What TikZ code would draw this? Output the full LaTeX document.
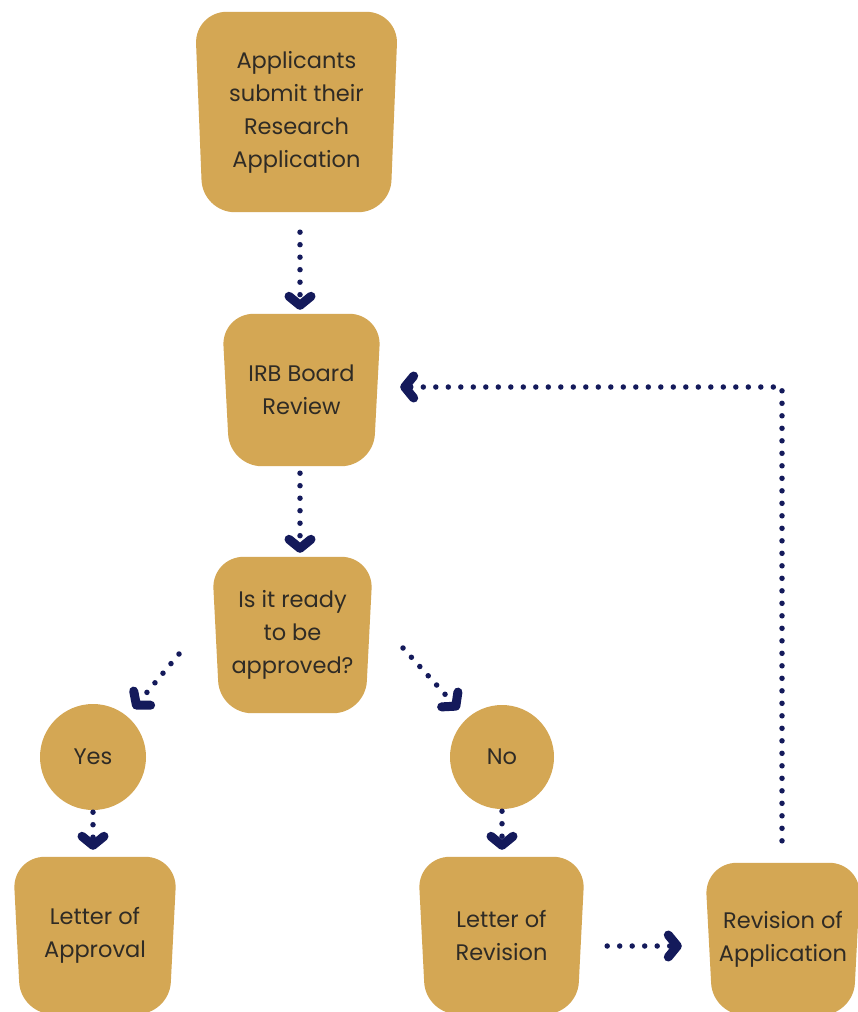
\documentclass[tikz,border=0pt]{standalone}
\usepackage{fontspec}
\setmainfont{Poppins}
\usetikzlibrary{arrows.meta,backgrounds}
\definecolor{gold}{HTML}{D4A754}
\definecolor{navy}{HTML}{141A5B}
\definecolor{txt}{HTML}{2F2B25}
\newcommand\goldshape[2][8pt]{%
  \fill[gold, rounded corners=32pt] (#2.north west) -- (#2.north east)
    -- ([xshift=-#1]#2.south east) -- ([xshift=#1]#2.south west) -- cycle;}
\tikzset{
  box/.style={inner sep=0pt, align=center, text=txt,
    font=\fontsize{22.5}{33}\selectfont},
  circ/.style={circle, fill=gold, inner sep=0pt, text=txt,
    font=\fontsize{22.5}{33}\selectfont},
  conn/.style={navy, line width=5.5pt, line cap=round,
    dash pattern=on 0pt off 12.5pt,
    -{Straight Barb[length=9pt,width=22pt,line width=9pt,round]}}
}
\begin{document}
\begin{tikzpicture}[x=1pt,y=-1pt]
\useasboundingbox (0,0) rectangle (857,1012);
\clip (0,0) rectangle (857,1012);
% nodes
\node[box, minimum width=203pt, minimum height=200pt] (app) at (296.5,112)
  {Applicants\\submit their\\Research\\Application};
\node[box, minimum width=159pt, minimum height=152pt] (irb) at (301.5,390)
  {IRB Board\\Review};
\node[box, minimum width=161pt, minimum height=156pt] (ready) at (292.5,635)
  {Is it ready\\to be\\approved?};
\node[circ, minimum size=106pt] (yes) at (93,757) {Yes};
\node[circ, minimum size=104pt] (no) at (502,757) {No};
\node[box, minimum width=164pt, minimum height=157pt] (appr) at (95,935.5)
  {Letter of\\Approval};
\node[box, minimum width=167pt, minimum height=157pt] (letrev) at (501.5,935.5)
  {Letter of\\Revision};
\node[box, minimum width=156pt, minimum height=152pt] (revapp) at (783,939)
  {Revision of\\Application};
\begin{scope}[on background layer]
  \fill[white] (0,0) rectangle (857,1012);
  \goldshape{app}
  \goldshape{irb}
  \goldshape{ready}
  \goldshape{appr}
  \goldshape{letrev}
  \goldshape{revapp}
\end{scope}
% connectors
\coordinate (y1) at (179,654);
\coordinate (n1) at (403,648);
\coordinate (r7) at (0,946);
\coordinate (corner) at (782,387);
\draw[conn, shorten <=20pt, shorten >=4pt] ([xshift=3.5pt]app.south) -- ([xshift=-1.5pt]irb.north);
\draw[conn, shorten <=7pt, shorten >=4pt] ([xshift=-1.5pt]irb.south) -- ([xshift=7.5pt]ready.north);
\draw[conn, shorten >=10pt] (y1) -- (yes);
\draw[conn, shorten >=12pt] (n1) -- (no);
\draw[conn, shorten <=2pt, shorten >=7pt] (yes.south) -- (yes.south |- appr.north);
\draw[conn, shorten <=2pt, shorten >=7pt] (no.south) -- (no.south |- letrev.north);
\draw[conn, shorten <=22pt, shorten >=23pt] (letrev.east |- r7) -- (revapp.west |- r7);
\draw[conn, shorten <=22pt, shorten >=19pt] ([xshift=-1pt]revapp.north) -- (corner) -- (irb.east |- corner);
\end{tikzpicture}
\end{document}
